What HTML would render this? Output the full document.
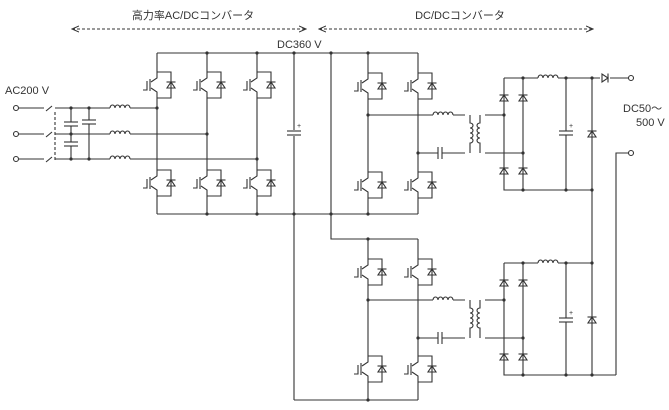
<!DOCTYPE html>
<html><head><meta charset="utf-8"><style>
body{margin:0;background:#fff}
svg{display:block}
text{font-family:"Liberation Sans","Noto Sans CJK JP",sans-serif;font-size:11px;fill:#333}
</style></head><body>
<svg width="669" height="410" viewBox="0 0 669 410" xmlns="http://www.w3.org/2000/svg">
<defs>
<g id="d" fill="none" stroke="#333" stroke-width="1.1"><polygon points="-4,3 4,3 0,-3"/><line x1="-4.5" y1="-3" x2="4.5" y2="-3"/></g>
<g id="sw" fill="none" stroke="#333" stroke-width="1.1">
 <path d="M0,0 H14 V26 H0"/>
 <use href="#d" x="14" y="13"/>
 <path d="M0,0 V6 L-6,10 M-6,16 L0,20 V26"/>
 <line x1="-7" y1="7" x2="-7" y2="19"/>
 <path d="M-10,9 V18 H-14"/>
</g>
<g id="L" fill="none" stroke="#333" stroke-width="1.1"><path d="M0,0 a2.5,3 0 0 1 5,0 a2.5,3 0 0 1 5,0 a2.5,3 0 0 1 5,0 a2.5,3 0 0 1 5,0"/></g>
<g id="Ch" stroke="#333" stroke-width="1.1"><line x1="-2" y1="-6" x2="-2" y2="6"/><line x1="2" y1="-6" x2="2" y2="6"/></g>
<g id="Cv" stroke="#333" stroke-width="1.1"><line x1="-7" y1="-2" x2="7" y2="-2"/><line x1="-7" y1="2" x2="7" y2="2"/></g>
<g id="T" fill="none" stroke="#333" stroke-width="1.1"><path d="M-5,0 V8 a3,2.5 0 0 1 0,5 a3,2.5 0 0 1 0,5 a3,2.5 0 0 1 0,5 a3,2.5 0 0 1 0,5 V38"/><path d="M5,0 V8 a3,2.5 0 0 0 0,5 a3,2.5 0 0 0 0,5 a3,2.5 0 0 0 0,5 a3,2.5 0 0 0 0,5 V38"/></g>
<marker id="ar" markerWidth="8" markerHeight="8" refX="7" refY="4" orient="auto-start-reverse"><path d="M0,1 L7,4 L0,7" fill="none" stroke="#333"/></marker>
</defs>
<text x="193" y="19" text-anchor="middle">高力率AC/DCコンバータ</text>
<text x="460" y="19" text-anchor="middle">DC/DCコンバータ</text>
<line x1="72" y1="29" x2="306" y2="29" stroke="#333" stroke-dasharray="3,2" marker-start="url(#ar)" marker-end="url(#ar)"/>
<line x1="319" y1="29" x2="593" y2="29" stroke="#333" stroke-dasharray="3,2" marker-start="url(#ar)" marker-end="url(#ar)"/>
<text x="5" y="94">AC200 V</text>
<text x="277" y="48">DC360 V</text>
<text x="623" y="112">DC50～</text>
<text x="636" y="126">500 V</text>
<g fill="none" stroke="#333" stroke-width="1.1">
<circle cx="16" cy="108" r="2.5"/><circle cx="16" cy="134" r="2.5"/><circle cx="16" cy="159" r="2.5"/>
<path d="M19,108 H44 M19,134 H44 M19,159 H44"/>
<path d="M46,111 L52,106 M46,137 L52,132 M46,162 L52,157"/>
<path d="M55,108 H110 M130,108 H157 M55,134 H110 M130,134 H207 M55,159 H110 M130,159 H257"/>
<line x1="55" y1="112" x2="55" y2="160" stroke-dasharray="3,2"/>
<path d="M71,108 V122 M71,126 V142 M71,146 V159 M89,108 V120 M89,124 V159"/>
<path d="M157,53 H418 M157,214 H418 M157,53 V72 M207,53 V72 M257,53 V72 M157,98 V170 M207,98 V170 M257,98 V170 M157,196 V214 M207,196 V214 M257,196 V214"/>
<path d="M294,53 V130 M294,136 V400 M331,53 V239 H418"/>
<path d="M368,53 V73 M418,53 V73 M368,99 V172 M418,99 V172 M368,198 V214 M418,198 V214"/>
<path d="M368,115 H433 M453,115 H465 V115 M418,153 H438 M442,153 H465"/>
<path d="M485,115 H504 M485,153 H523 M504,78 H538 M558,78 H600 M610,78 H628 M504,78 V190 H592 M523,78 V190 M566,78 V131 M566,135 V190 M592,78 V375 M616,375 V153 H628"/>
<circle cx="631" cy="78" r="2.5"/><circle cx="631" cy="153" r="2.5"/>
<path d="M368,239 V259 M418,239 V259 M368,285 V356 M418,285 V356 M368,382 V400 M418,382 V400 M294,400 H418"/>
<path d="M368,300 H433 M453,300 H465 M418,338 H438 M442,338 H465"/>
<path d="M485,300 H504 M485,338 H523 M504,263 H538 M558,263 H592 M504,263 V375 H616 M523,263 V375 M566,263 V318 M566,322 V375"/>
</g>
<use href="#Cv" x="71" y="124"/><use href="#Cv" x="71" y="144"/><use href="#Cv" x="89" y="122"/>
<use href="#L" x="110" y="108"/><use href="#L" x="110" y="134"/><use href="#L" x="110" y="159"/>
<use href="#Cv" x="294" y="133"/><text x="297" y="128" style="font-size:7px">+</text>
<use href="#sw" x="157" y="72"/><use href="#sw" x="207" y="72"/><use href="#sw" x="257" y="72"/>
<use href="#sw" x="157" y="170"/><use href="#sw" x="207" y="170"/><use href="#sw" x="257" y="170"/>
<use href="#sw" x="368" y="73"/><use href="#sw" x="418" y="73"/><use href="#sw" x="368" y="172"/><use href="#sw" x="418" y="172"/>
<use href="#sw" x="368" y="259"/><use href="#sw" x="418" y="259"/><use href="#sw" x="368" y="356"/><use href="#sw" x="418" y="356"/>
<use href="#L" x="433" y="115"/><use href="#L" x="433" y="300"/>
<use href="#Ch" x="440" y="153"/><use href="#Ch" x="440" y="338"/>
<use href="#T" x="475" y="115"/><use href="#T" x="475" y="300"/>
<use href="#d" x="504" y="98"/><use href="#d" x="523" y="98"/><use href="#d" x="504" y="171"/><use href="#d" x="523" y="171"/>
<use href="#d" x="504" y="283"/><use href="#d" x="523" y="283"/><use href="#d" x="504" y="357"/><use href="#d" x="523" y="357"/>
<use href="#L" x="538" y="78"/><use href="#L" x="538" y="263"/>
<use href="#Cv" x="566" y="133"/><use href="#Cv" x="566" y="320"/>
<text x="569" y="128" style="font-size:7px">+</text><text x="569" y="315" style="font-size:7px">+</text>
<use href="#d" x="592" y="134"/><use href="#d" x="592" y="320"/>
<g transform="translate(605,78) rotate(90)"><use href="#d"/></g>
<g fill="#333">
<circle cx="71" cy="108" r="1.6"/><circle cx="89" cy="108" r="1.6"/><circle cx="71" cy="134" r="1.6"/><circle cx="71" cy="159" r="1.6"/><circle cx="89" cy="159" r="1.6"/>
<circle cx="157" cy="108" r="1.6"/><circle cx="207" cy="134" r="1.6"/><circle cx="257" cy="159" r="1.6"/>
<circle cx="207" cy="53" r="1.6"/><circle cx="257" cy="53" r="1.6"/><circle cx="294" cy="53" r="1.6"/><circle cx="331" cy="53" r="1.6"/><circle cx="368" cy="53" r="1.6"/>
<circle cx="207" cy="214" r="1.6"/><circle cx="257" cy="214" r="1.6"/><circle cx="294" cy="214" r="1.6"/><circle cx="331" cy="214" r="1.6"/><circle cx="368" cy="214" r="1.6"/>
<circle cx="368" cy="115" r="1.6"/><circle cx="418" cy="153" r="1.6"/><circle cx="504" cy="115" r="1.6"/><circle cx="523" cy="153" r="1.6"/>
<circle cx="523" cy="78" r="1.6"/><circle cx="566" cy="78" r="1.6"/><circle cx="592" cy="78" r="1.6"/><circle cx="523" cy="190" r="1.6"/><circle cx="566" cy="190" r="1.6"/><circle cx="592" cy="190" r="1.6"/>
<circle cx="368" cy="239" r="1.6"/><circle cx="368" cy="300" r="1.6"/><circle cx="418" cy="338" r="1.6"/><circle cx="368" cy="400" r="1.6"/>
<circle cx="504" cy="300" r="1.6"/><circle cx="523" cy="338" r="1.6"/><circle cx="523" cy="263" r="1.6"/><circle cx="566" cy="263" r="1.6"/><circle cx="592" cy="263" r="1.6"/>
<circle cx="523" cy="375" r="1.6"/><circle cx="566" cy="375" r="1.6"/><circle cx="592" cy="375" r="1.6"/>
</g>
</svg>
</body></html>
